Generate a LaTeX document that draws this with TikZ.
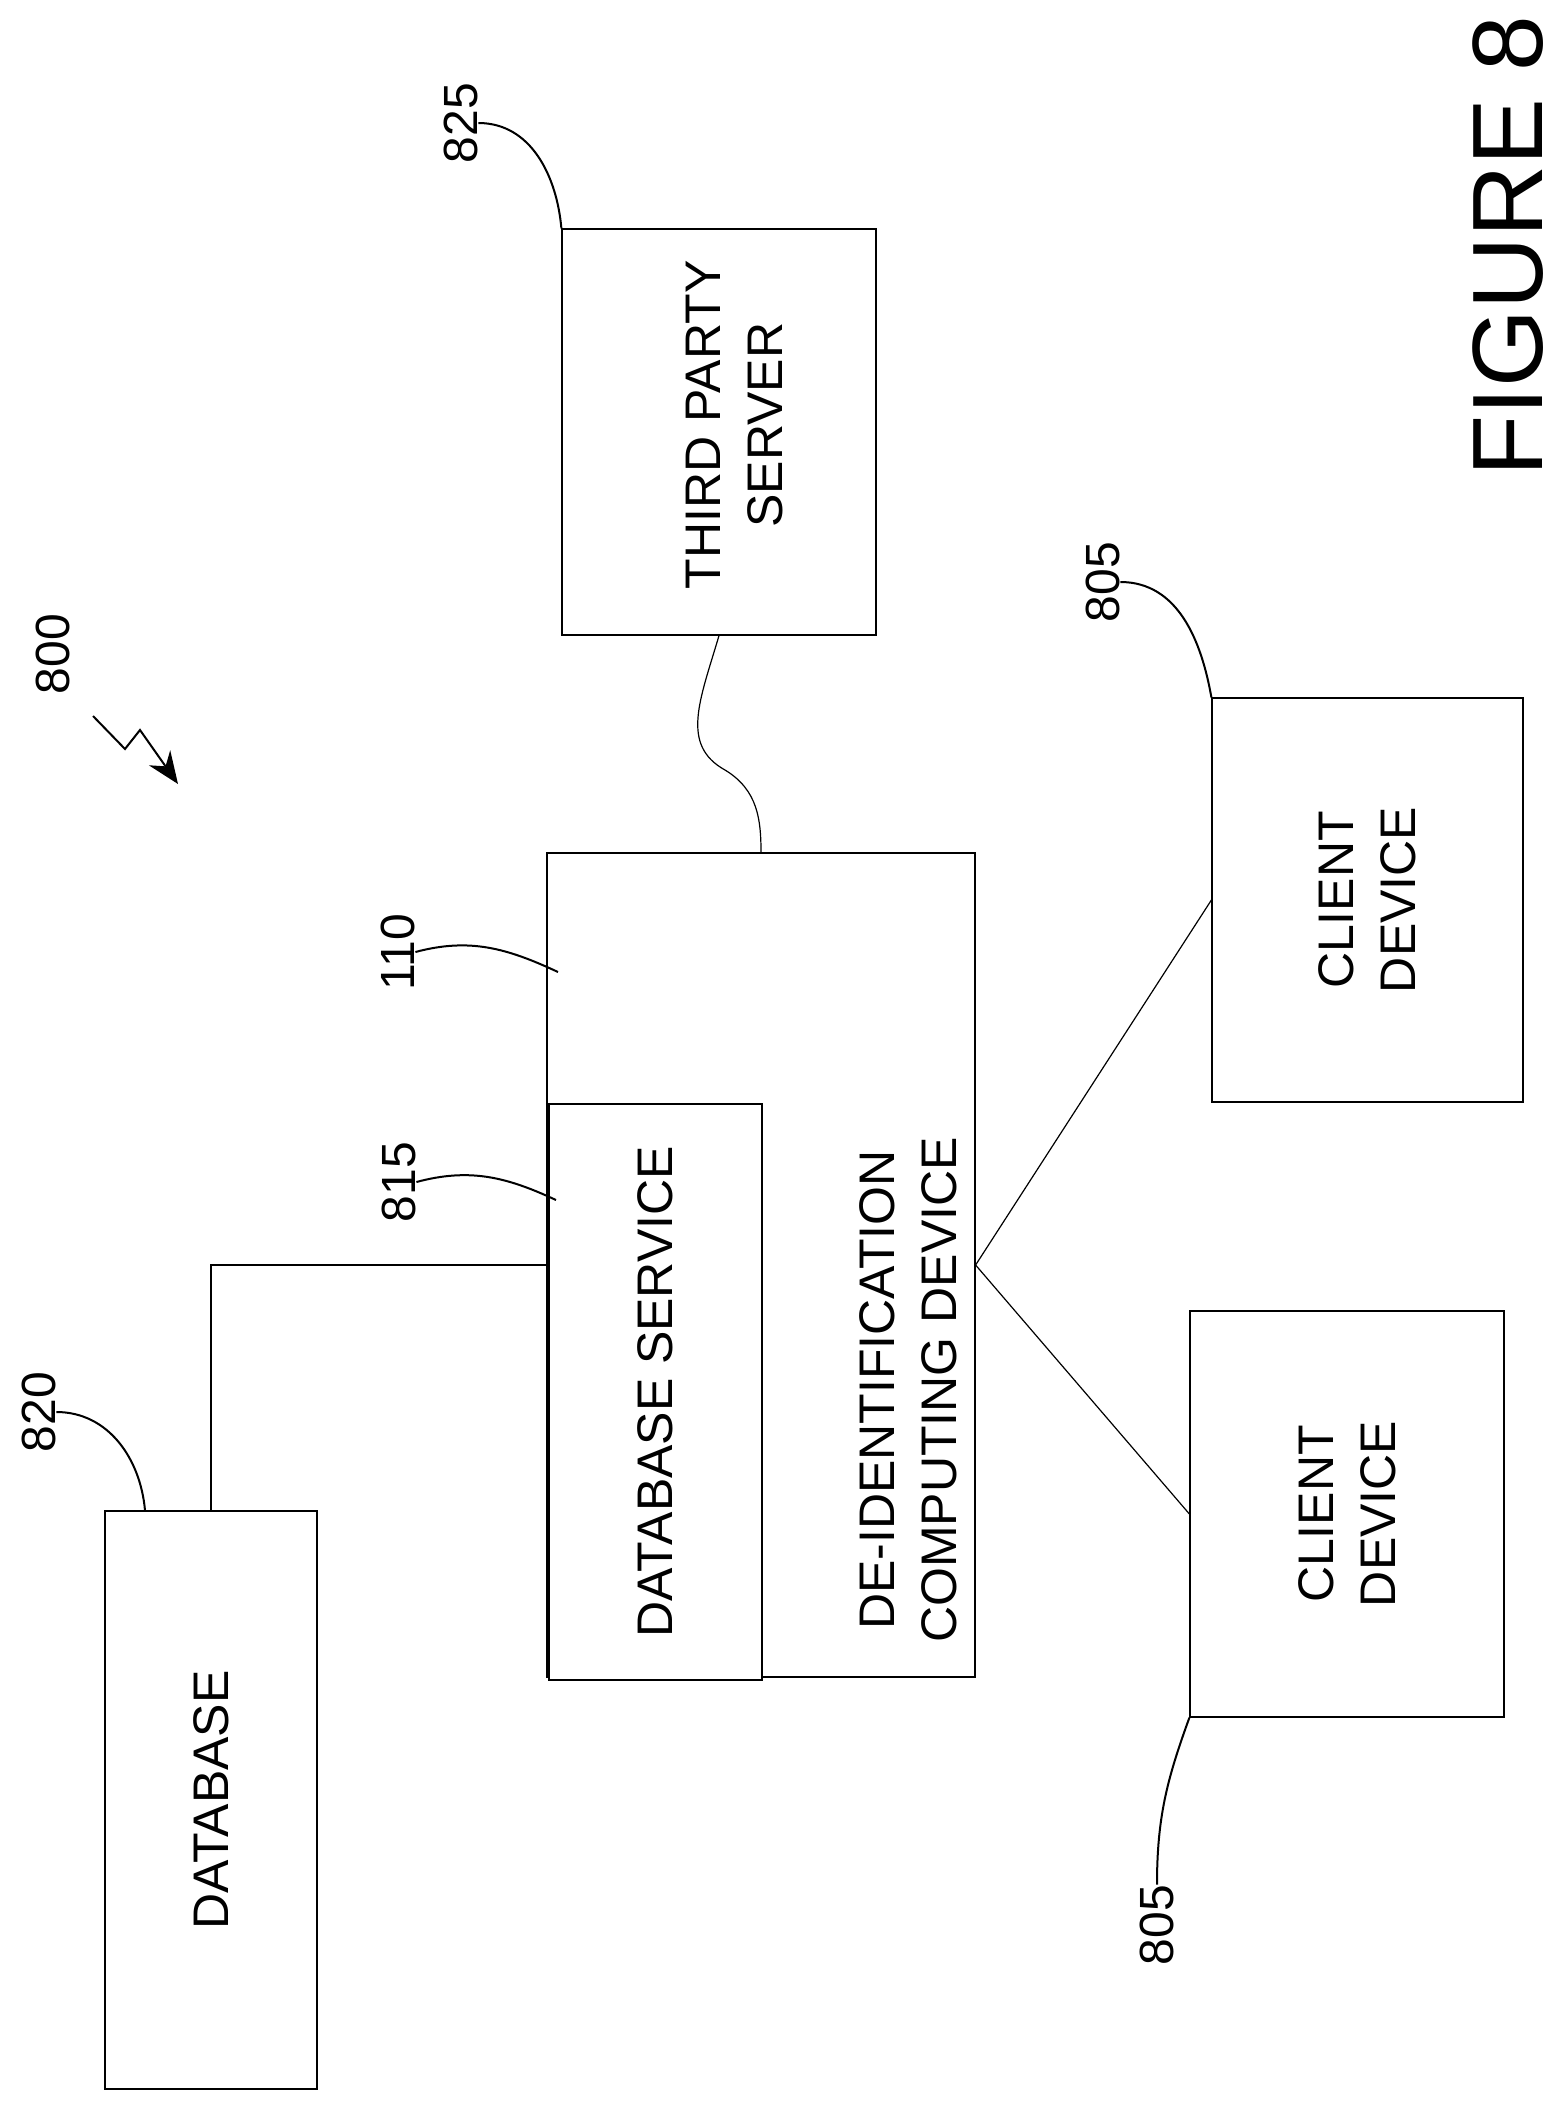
\documentclass[tikz,border=0pt]{standalone}
\usepackage{fontspec}
\setmainfont{Liberation Sans}
\usetikzlibrary{arrows.meta}

\tikzset{
  box/.style={draw=black, line width=0.6pt, rectangle, inner sep=0pt},
  boxtext/.style={rotate=90, align=center, font=\fontsize{25}{31}\selectfont},
  refnum/.style={rotate=90, font=\fontsize{24}{28}\selectfont, inner sep=0pt},
  leader/.style={line width=1pt},
  wire/.style={line width=0.6pt}
}

\begin{document}
\begin{tikzpicture}[x=0.5pt, y=-0.5pt]
  \useasboundingbox (0,0) rectangle (1567,2110);

  % boxes
  \node[box, minimum width=106pt, minimum height=289pt] (db) at (211,1800) {};
  \node[box, minimum width=214pt, minimum height=412pt] (dev) at (761,1265) {};
  \node[box, fill=white, minimum width=106.5pt, minimum height=288pt] (svc) at (655.5,1392) {};
  \node[box, minimum width=157pt, minimum height=203pt] (tps) at (719,432) {};
  \node[box, minimum width=155.5pt, minimum height=202pt] (c1) at (1367.5,900) {};
  \node[box, minimum width=157pt, minimum height=203pt] (c2) at (1347,1514) {};

  % box texts
  \node[boxtext] (dbtext) at (db.center) {DATABASE};
  \node[boxtext] (devtext) at (908,1390) {DE-IDENTIFICATION\\COMPUTING DEVICE};
  \node[boxtext] (svctext) at (svc.center) {DATABASE SERVICE};
  \node[boxtext] (tpstext) at (735,425) {THIRD PARTY\\SERVER};
  \node[boxtext] (c1text) at (c1.center) {CLIENT\\DEVICE};
  \node[boxtext] (c2text) at (c2.center) {CLIENT\\DEVICE};

  % reference numerals
  \node[refnum] (n825) at (461,123) {825};
  \node[refnum] (n800) at (53,654) {800};
  \node[refnum] (n110) at (398,952) {110};
  \node[refnum] (n815) at (399,1182) {815};
  \node[refnum] (n820) at (39,1412) {820};
  \node[refnum] (n805a) at (1103,582) {805};
  \node[refnum] (n805b) at (1157,1925) {805};
  \node[rotate=90, font=\fontsize{50}{56}\selectfont, inner sep=0pt] (fig) at (1508,246) {FIGURE 8};

  % connectors
  \draw[wire] (db.north) |- (dev.west);
  \draw[wire] (dev.east) -- (c1.west);
  \draw[wire] (dev.east) -- (c2.west);
  \draw[wire] (tps.south) .. controls (700,700) and (680,745) .. (725,770)
                           .. controls (758,790) and (761,820) .. (dev.north);

  % leaders
  \draw[leader] (n825.south) to[out=0, in=95] (tps.north west);
  \draw[leader] (n805a.south) to[out=0, in=100] (c1.north west);
  \draw[leader] (n820.south) to[out=0, in=95] (db.north west -| 145,0);
  \draw[leader] (n110.south) to[out=15, in=155] (558,972);
  \draw[leader] (n815.south) to[out=15, in=155] (556,1200);
  \draw[leader] (c2.south west) to[out=-110, in=90] (n805b.east);
  \draw[leader, -{Stealth[length=16pt, width=13pt]}] (93,716) -- (125,749) -- (140,730) -- (178,784);
\end{tikzpicture}
\end{document}
